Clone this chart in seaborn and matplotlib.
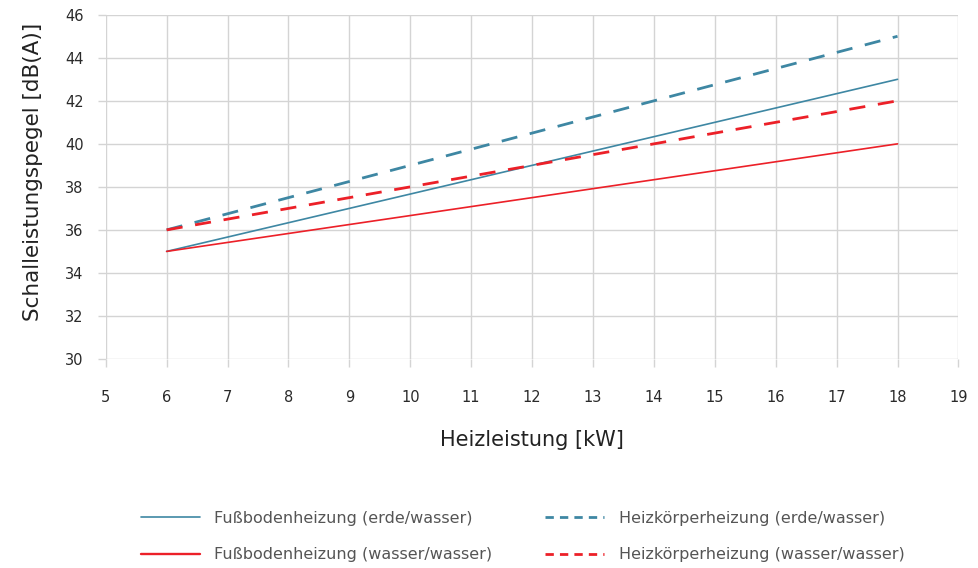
import numpy as np
import pandas as pd
import matplotlib
matplotlib.use('Agg')
import matplotlib.pyplot as plt
import seaborn as sns

# Data
leistung = [6, 18]
fb_erde = [35, 43]
fb_wasser = [35, 40]
hk_erde = [36, 45]
hk_wasser = [36, 42]

names = ['Fußbodenheizung (erde/wasser)', 'Fußbodenheizung (wasser/wasser)',
         'Heizkörperheizung (erde/wasser)', 'Heizkörperheizung (wasser/wasser)']
series = [fb_erde, fb_wasser, hk_erde, hk_wasser]

df = pd.concat([pd.DataFrame({'kW': leistung, 'dB': s, 'Serie': n}) for n, s in zip(names, series)])

teal = '#3e87a3'
red = '#ec2028'
palette = {names[0]: teal, names[1]: red, names[2]: teal, names[3]: red}
dashes = {names[0]: '', names[1]: '', names[2]: (5.8, 4.6), names[3]: (5.8, 4.6)}

sns.set_theme(style='white')
plt.rcParams['font.family'] = ['DejaVu Sans']
grid_col = '#d4d4d4'

fig, ax = plt.subplots(figsize=(9.79, 5.68), dpi=100)
fig.subplots_adjust(left=0.108, right=0.979, top=0.974, bottom=0.368)

sns.lineplot(data=df, x='kW', y='dB', hue='Serie', style='Serie', palette=palette,
             dashes=dashes, hue_order=names, style_order=names, legend=False, ax=ax)

# solid lines thin, dashed ones thicker with longer dashes
for line, n, lw in zip(ax.lines, names, [1.2, 1.2, 2.0, 2.0]):
    line.set_linewidth(lw)
    if dashes[n]:
        line.set_linestyle((0, dashes[n]))

ax.set_xlim(5, 19)
ax.set_ylim(30, 46)
ax.set_xticks(range(5, 20))
ax.set_yticks(range(30, 47, 2))
ax.grid(True, color=grid_col, linewidth=1.0)
for s in ax.spines.values():
    s.set_visible(False)
ax.tick_params(axis='both', which='both', length=6, width=1, color=grid_col,
               direction='out', labelsize=10.5, labelcolor='#2a2a2a', pad=8)
ax.tick_params(axis='x', bottom=True, pad=16)
ax.tick_params(axis='y', left=True, pad=10)

ax.set_xlabel('Heizleistung [kW]', fontsize=15, color='#222222', labelpad=18)
ax.set_ylabel('Schalleistungspegel [dB(A)]', fontsize=15.5, color='#222222')
ax.yaxis.set_label_coords(-0.074, 0.544)

handles = []
for n, lw in zip(names, [1.2, 1.7, 2.0, 2.0]):
    h, = ax.plot([], [], color=palette[n], linewidth=lw,
                 linestyle='-' if dashes[n] == '' else (0, (3, 2.2)))
    handles.append(h)

fig.legend(handles, names, loc='lower center', bbox_to_anchor=(0.534, -0.015), ncol=2,
           frameon=False, fontsize=11.5, handlelength=3.7, handletextpad=0.9,
           columnspacing=3.3, labelspacing=1.33, labelcolor='#555555')

fig.savefig('out.png', dpi=100)
